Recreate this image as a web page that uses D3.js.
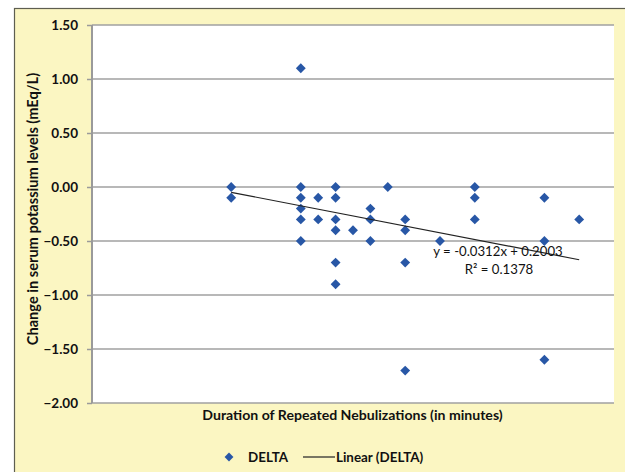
<!DOCTYPE html>
<html><head><meta charset="utf-8">
<script src="https://cdn.jsdelivr.net/npm/d3@7"></script>
<style>body{margin:0;background:#fff}svg{display:block}text{font-family:Lato,"Open Sans",sans-serif;fill:#111}</style>
</head><body><svg id="c" width="625" height="472"></svg>
<script>
const durations = [8,8, 12,12,12,12,12,12, 13,13, 14,14,14,14,14,14, 15, 16,16,16, 17, 18,18,18,18, 20, 22,22,22, 26,26,26, 28];
const deltas    = [0,-0.1, 1.1,0,-0.1,-0.2,-0.3,-0.5, -0.1,-0.3, 0,-0.1,-0.3,-0.4,-0.7,-0.9, -0.4, -0.2,-0.3,-0.5, 0, -0.3,-0.4,-0.7,-1.7, -0.5, 0,-0.1,-0.3, -0.1,-0.5,-1.6, -0.3];
const yTicks = [1.5,1.0,0.5,0,-0.5,-1.0,-1.5,-2.0];
const slope = -0.0312, intercept = 0.2003, r2 = 0.1378;
const trendX = [8, 28];

const svg = d3.select("#c");
svg.append("rect").attr("x",14.5).attr("y",8.5).attr("width",640).attr("height",480)
  .attr("fill","#fbf6c2").attr("stroke","#5e5e50").attr("stroke-width",1.2);

const x = d3.scaleLinear().domain([0,30]).range([92,614]);
const y = d3.scaleLinear().domain([-2,1.5]).range([403,25]);

svg.append("rect").attr("x",92).attr("y",25).attr("width",522).attr("height",378).attr("fill","#fff");

const ax = d3.axisLeft(y).tickValues(yTicks).tickSize(5).tickPadding(9).tickFormat(d3.format(".2f"));
const g = svg.append("g").attr("transform","translate(92,0)").call(ax);
g.select(".domain").remove();
g.selectAll(".tick line").attr("stroke","#9a9a9a").attr("stroke-width",1.5);
g.selectAll(".tick text").attr("font-size",13.5).attr("font-weight","bold").attr("fill","#111").attr("font-family","Lato, sans-serif");

svg.append("g").selectAll("line").data(yTicks).join("line")
  .attr("x1",92).attr("x2",614).attr("y1",d=>y(d)).attr("y2",d=>y(d))
  .attr("stroke","#a0a0a0").attr("stroke-width",1.5);
svg.append("line").attr("x1",92).attr("x2",92).attr("y1",25).attr("y2",403)
  .attr("stroke","#9a9a9a").attr("stroke-width",2);

const diamond = d3.symbol().type(d3.symbolDiamond2).size(62);
svg.append("g").selectAll("path").data(durations.map((d,i)=>[d,deltas[i]])).join("path")
  .attr("d",diamond).attr("transform",d=>`translate(${x(d[0])},${y(d[1])})`).attr("fill","#2857a6");

svg.append("line").attr("x1",x(trendX[0])).attr("y1",y(slope*trendX[0]+intercept))
  .attr("x2",x(trendX[1])).attr("y2",y(slope*trendX[1]+intercept))
  .attr("stroke","#222").attr("stroke-width",1.2);

svg.append("text").attr("x",498).attr("y",256).attr("text-anchor","middle").attr("font-size",13.2)
  .text(`y = ${slope}x + ${intercept}`);
svg.append("text").attr("x",499).attr("y",274).attr("text-anchor","middle").attr("font-size",13.2)
  .text(`R² = ${r2}`);

svg.append("text").attr("x",352.5).attr("y",420).attr("text-anchor","middle").attr("font-size",14.1).attr("font-weight","bold")
  .text("Duration of Repeated Nebulizations (in minutes)");
svg.append("text").attr("transform","translate(38,209) rotate(-90)").attr("text-anchor","middle").attr("font-size",14.6).attr("font-weight","bold")
  .text("Change in serum potassium levels (mEq/L)");

svg.append("path").attr("d",d3.symbol().type(d3.symbolDiamond2).size(50)).attr("transform","translate(229,457)").attr("fill","#2857a6");
svg.append("text").attr("x",248).attr("y",462).attr("font-size",13.4).attr("font-weight","bold").text("DELTA");
svg.append("line").attr("x1",303).attr("x2",335).attr("y1",457).attr("y2",457).attr("stroke","#222").attr("stroke-width",1.2);
svg.append("text").attr("x",336).attr("y",462).attr("font-size",13.4).attr("font-weight","bold").text("Linear (DELTA)");
</script></body></html>
